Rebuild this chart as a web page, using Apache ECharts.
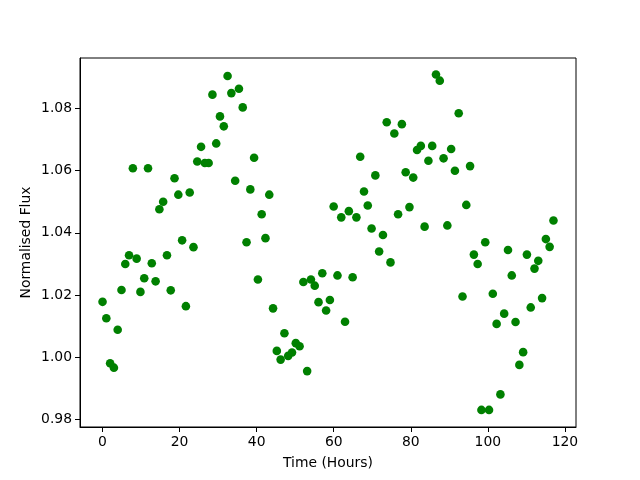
<!DOCTYPE html>
<html>
<head>
<meta charset="utf-8">
<script src="https://cdn.jsdelivr.net/npm/echarts@6/dist/echarts.min.js"></script>
<style>
  html, body { margin: 0; padding: 0; background: #fff; }
  #chart { width: 640px; height: 480px; }
</style>
</head>
<body>
<div id="chart"></div>
<script>
// time of each sample, hours
const hours = [
  0.00, 0.98, 1.97, 2.95, 3.93, 4.92, 5.90, 6.88, 7.87, 8.85,
  9.83, 10.82, 11.80, 12.78, 13.77, 14.75, 15.73, 16.72, 17.70, 18.68,
  19.67, 20.65, 21.63, 22.62, 23.60, 24.58, 25.57, 26.55, 27.53, 28.52,
  29.50, 30.48, 31.47, 32.45, 33.43, 34.42, 35.40, 36.38, 37.37, 38.35,
  39.33, 40.32, 41.30, 42.28, 43.27, 44.25, 45.23, 46.22, 47.20, 48.18,
  49.17, 50.15, 51.13, 52.12, 53.10, 54.08, 55.07, 56.05, 57.03, 58.02,
  59.00, 59.98, 60.97, 61.95, 62.93, 63.92, 64.90, 65.88, 66.87, 67.85,
  68.83, 69.82, 70.80, 71.78, 72.77, 73.75, 74.73, 75.72, 76.70, 77.68,
  78.67, 79.65, 80.63, 81.62, 82.60, 83.58, 84.57, 85.55, 86.53, 87.52,
  88.50, 89.48, 90.47, 91.45, 92.43, 93.42, 94.40, 95.38, 96.37, 97.35,
  98.33, 99.32, 100.30, 101.28, 102.27, 103.25, 104.23, 105.22, 106.20, 107.18,
  108.17, 109.15, 110.13, 111.12, 112.10, 113.08, 114.07, 115.05, 116.03, 117.02
];

// normalised flux
const flux = [
  1.0178, 1.0125, 0.9980, 0.9966, 1.0088, 1.0216, 1.0300, 1.0328, 1.0608, 1.0317,
  1.0210, 1.0254, 1.0608, 1.0302, 1.0244, 1.0476, 1.0500, 1.0328, 1.0215, 1.0576,
  1.0523, 1.0376, 1.0164, 1.0530, 1.0354, 1.0630, 1.0677, 1.0625, 1.0625, 1.0845,
  1.0688, 1.0775, 1.0743, 1.0905, 1.0850, 1.0568, 1.0864, 1.0804, 1.0370, 1.0540,
  1.0642, 1.0250, 1.0460, 1.0383, 1.0523, 1.0157, 1.0020, 0.9992, 1.0077, 1.0004,
  1.0015, 1.0045, 1.0035, 1.0242, 0.9955, 1.0250, 1.0230, 1.0177, 1.0270, 1.0150,
  1.0184, 1.0485, 1.0263, 1.0450, 1.0114, 1.0470, 1.0257, 1.0450, 1.0645, 1.0533,
  1.0488, 1.0414, 1.0585, 1.0340, 1.0393, 1.0756, 1.0305, 1.0720, 1.0460, 1.0750,
  1.0595, 1.0483, 1.0578, 1.0667, 1.0680, 1.0420, 1.0632, 1.0680, 1.0910, 1.0890,
  1.0640, 1.0424, 1.0670, 1.0600, 1.0785, 1.0195, 1.0490, 1.0615, 1.0330, 1.0300,
  0.9830, 1.0370, 0.9830, 1.0204, 1.0107, 0.9880, 1.0140, 1.0345, 1.0263, 1.0113,
  0.9975, 1.0016, 1.0330, 1.0160, 1.0285, 1.0310, 1.0190, 1.0380, 1.0355, 1.0440
];

const xTicks = [0, 20, 40, 60, 80, 100, 120];
const yTicks = [0.98, 1.00, 1.02, 1.04, 1.06, 1.08];

const chart = echarts.init(document.getElementById('chart'));

const font = 'DejaVu Sans';
const fs = 13.9;

const option = {
  animation: false,
  grid: {
    left: 80, right: 64, top: 58, bottom: 53,
    show: true, borderColor: '#000', borderWidth: 1, backgroundColor: 'transparent'
  },
  xAxis: {
    type: 'value',
    min: -5.85,
    max: 122.87,
    name: 'Time (Hours)',
    nameLocation: 'middle',
    nameGap: 29,
    nameMoveOverlap: false,
    nameTextStyle: { fontFamily: font, fontSize: fs, color: '#000' },
    axisLine: { show: true, onZero: false, lineStyle: { color: '#000', width: 1 } },
    axisTick: { show: true, length: 5, inside: false, customValues: xTicks, lineStyle: { color: '#000' } },
    axisLabel: { customValues: xTicks, margin: 8, fontFamily: font, fontSize: fs, color: '#000' },
    splitLine: { show: false }
  },
  yAxis: {
    type: 'value',
    min: 0.9775,
    max: 1.0963,
    name: 'Normalised Flux',
    nameLocation: 'middle',
    nameGap: 47,
    nameMoveOverlap: false,
    nameRotate: 90,
    nameTextStyle: { fontFamily: font, fontSize: fs, color: '#000' },
    axisLine: { show: true, onZero: false, lineStyle: { color: '#000', width: 1 } },
    axisTick: { show: true, length: 5, inside: false, customValues: yTicks, lineStyle: { color: '#000' } },
    axisLabel: {
      customValues: yTicks, margin: 8, fontFamily: font, fontSize: fs, color: '#000',
      formatter: (v) => v.toFixed(2)
    },
    splitLine: { show: false }
  },
  series: [{
    type: 'scatter',
    data: hours.map((h, i) => [h, flux[i]]),
    symbolSize: 8.6,
    itemStyle: { color: '#008000', opacity: 1 }
  }]
};

chart.setOption(option);
</script>
</body>
</html>
